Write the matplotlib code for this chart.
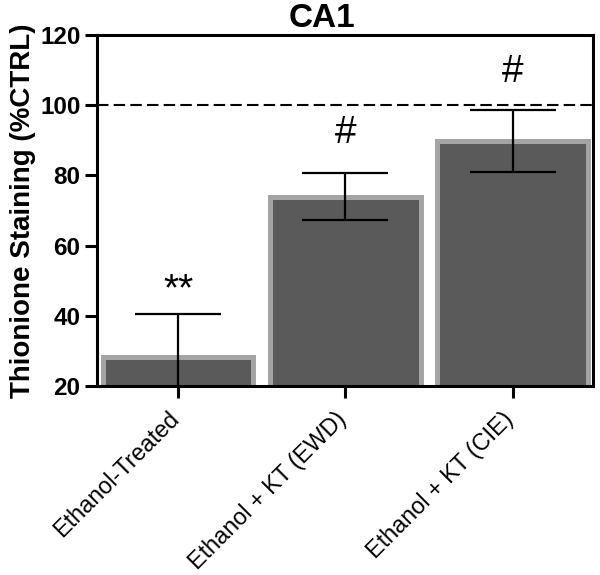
import matplotlib
matplotlib.use("Agg")
import matplotlib.pyplot as plt
import matplotlib.transforms as mtransforms
import numpy as np

categories = ["Ethanol-Treated", "Ethanol + KT (EWD)", "Ethanol + KT (CIE)"]
means = [28.1, 73.9, 89.8]
errors = [12.5, 6.7, 8.7]
annotations = ["**", "#", "#"]
annot_y = [44.4, 89.1, 106.6]
yticks = [20, 40, 60, 80, 100, 120]
ref_line = 100

plt.rcParams['font.family'] = ['Liberation Sans', 'DejaVu Sans']

fig = plt.figure(figsize=(6, 5.75), dpi=100)
ax = fig.add_axes([0.162, 0.329, 0.826, 0.610])

x = np.arange(len(categories))
ax.bar(x, means, width=0.9, color='#5a5a5a', edgecolor='#a4a4a4', linewidth=3.6, zorder=2)
ax.errorbar(x, means, yerr=errors, fmt='none', ecolor='black', elinewidth=1.6,
            capsize=31, capthick=1.6, zorder=3)
ax.axhline(ref_line, color='black', linewidth=1.5, dashes=(5.5, 2.5), zorder=1)

for xi, txt, yy in zip(x, annotations, annot_y):
    ax.text(xi, yy, txt, ha='center', va='baseline', fontsize=28, color='black', zorder=4)

ax.set_xlim(-0.485, 2.48)
ax.set_ylim(20, 120)
ax.set_yticks(yticks)
ax.set_xticks(x)
ax.set_xticklabels([])

# rotated category labels placed below the ticks
label_trans = ax.get_xaxis_transform() + mtransforms.ScaledTranslation(-0.11, -0.215, fig.dpi_scale_trans)
for xi, cat in zip(x, categories):
    ax.text(xi, 0, cat, transform=label_trans, rotation=45, ha='right', va='top',
            rotation_mode='anchor', fontsize=16.8, clip_on=False)

for lab in ax.get_yticklabels():
    lab.set_fontweight('bold')
    lab.set_fontsize(17.5)

for sp in ax.spines.values():
    sp.set_linewidth(2.2)
    sp.set_zorder(5)
ax.tick_params(axis='both', direction='out', length=8.6, width=2.2)
ax.tick_params(axis='y', pad=3.5)

ax.set_ylabel("Thionione Staining (%CTRL)", fontsize=20, fontweight='bold', labelpad=3)
ax.set_title("CA1", fontsize=24, fontweight='bold', pad=6, x=0.454)

fig.savefig("out.png", dpi=100)
